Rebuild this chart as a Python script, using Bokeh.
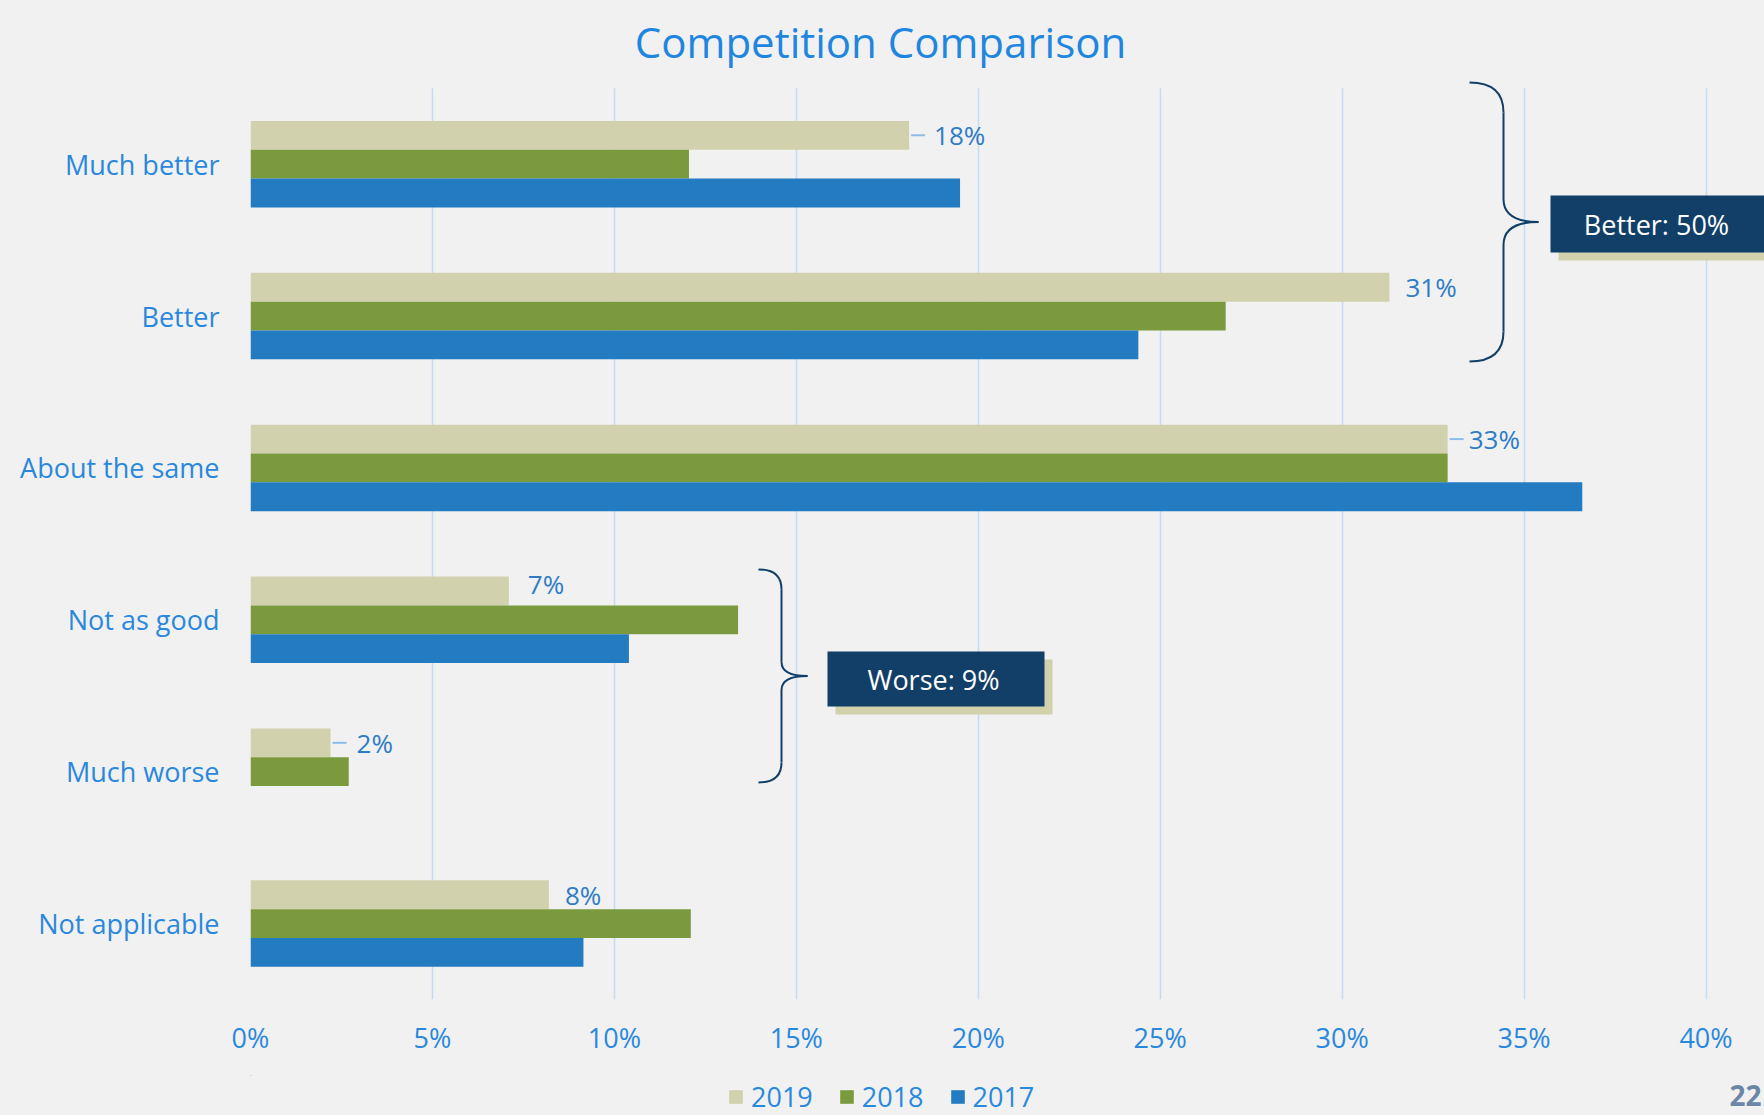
from bokeh.plotting import figure
from bokeh.layouts import column
from bokeh.models import (ColumnDataSource, Range1d, FixedTicker, NumeralTickFormatter,
                          Legend, LegendItem, BoxAnnotation)
from bokeh.transform import dodge
from bokeh.embed import file_html
from bokeh.resources import INLINE
from bokeh.core.properties import value

# ---------------- data ----------------
categories = ["Much better", "Better", "About the same", "Not as good", "Much worse", "Not applicable"]
years = ["2019", "2018", "2017"]
v2019 = [0.181, 0.313, 0.329, 0.071, 0.022, 0.082]
v2018 = [0.1205, 0.268, 0.329, 0.134, 0.027, 0.121]
v2017 = [0.195, 0.244, 0.366, 0.104, 0.0, 0.0915]
x_ticks = [0.0, 0.05, 0.10, 0.15, 0.20, 0.25, 0.30, 0.35, 0.40]
title_text = "Competition Comparison"
group_texts = ["Better: 50%", "Worse: 9%"]
page_number = "22"

# ---------------- style ----------------
FONT = "Open Sans"
C2019, C2018, C2017 = "#D1D2AD", "#7A9A3D", "#237BC2"
BLUE_TXT = "#2A88DC"
LABEL_TXT = "#2E7CC6"
NAVY = "#113F68"
SHADOW = "#D1D1AC"
BG = "#F1F1F1"
GRID = "#C6DCF3"
W, H = 1764, 1115
TOP_H, BOT_H = 80, 40

FRAME_LEFT, FRAME_TOP, FRAME_BOTTOM = 250, TOP_H, 999
FRAME_W = W - FRAME_LEFT
FRAME_H = FRAME_BOTTOM - FRAME_TOP
PX_PER_X = 1455.5 / 0.40          # pixels per unit of x
PX_PER_Y = 151.9                  # pixels per category
GRID_TOP = 87.75
y_top = -0.5 - (GRID_TOP - FRAME_TOP) / PX_PER_Y
x_end = FRAME_W / PX_PER_X
BAR_H = 0.19


def px_x(px):
    return px / PX_PER_X


def px_y(px):
    return px / PX_PER_Y


def y_of(ref_px):
    return -0.5 + (ref_px - GRID_TOP) / PX_PER_Y


def x_of(ref_px):
    return (ref_px - FRAME_LEFT) / PX_PER_X


def strip(height):
    # a plain strip whose coordinates are page pixels
    f = figure(frame_width=FRAME_W, frame_height=height,
               x_range=Range1d(FRAME_LEFT, W), y_range=Range1d(height, 0),
               x_axis_type=None, y_axis_type=None, output_backend="svg", toolbar_location=None,
               min_border_left=FRAME_LEFT, min_border_right=0, min_border_top=0,
               min_border_bottom=0, background_fill_color=BG, border_fill_color=None,
               outline_line_color=None, styles={"background-color": BG})
    f.grid.visible = False
    return f


# ---------------- title strip ----------------
top = strip(TOP_H)
top.text(x=[880], y=[40.7], text=[title_text], text_font=value(FONT), text_font_size="42px",
         text_color="#1F86E0", text_align="center", text_baseline="alphabetic")

# ---------------- main chart ----------------
p = figure(frame_width=FRAME_W, frame_height=FRAME_H,
           x_range=Range1d(0, x_end), y_range=Range1d(5.5, y_top),
           output_backend="svg", toolbar_location=None,
           min_border_left=FRAME_LEFT, min_border_right=0, min_border_top=0,
           min_border_bottom=H - TOP_H - BOT_H - FRAME_H,
           background_fill_color=BG, border_fill_color=None, outline_line_color=None,
           styles={"background-color": BG})

idx = list(range(len(categories)))
src = ColumnDataSource(dict(idx=idx, v2019=v2019, v2018=v2018, v2017=v2017))

p.hbar(y=dodge("idx", -BAR_H, range=p.y_range), left=0, right="v2019", height=BAR_H,
       source=src, fill_color=C2019, line_color=None)
p.hbar(y=dodge("idx", 0.0, range=p.y_range), left=0, right="v2018", height=BAR_H,
       source=src, fill_color=C2018, line_color=None)
p.hbar(y=dodge("idx", BAR_H, range=p.y_range), left=0, right="v2017", height=BAR_H,
       source=src, fill_color=C2017, line_color=None)

# data labels for 2019
lab_dx = [25, 16, 21, 19, 26, 16]
lab_dy = [0, 0, 0, -7, 0, 0]
has_leader = [True, False, True, False, True, False]
lab_src = ColumnDataSource(dict(
    x=v2019, y=[i - BAR_H for i in idx],
    text=["%d%%" % round(v * 100) for v in v2019],
    dx=lab_dx, dy=lab_dy))
p.text(x="x", y="y", text="text", x_offset="dx", y_offset="dy", source=lab_src,
       text_font=value(FONT), text_font_size="26px", text_color=LABEL_TXT,
       text_align="left", text_baseline="middle")
lead_x0 = [v + px_x(2) for v, h in zip(v2019, has_leader) if h]
lead_x1 = [v + px_x(16) for v, h in zip(v2019, has_leader) if h]
lead_y = [i - BAR_H for i, h in zip(idx, has_leader) if h]
p.segment(x0=lead_x0, x1=lead_x1, y0=lead_y, y1=lead_y, line_color="#8DBCE8", line_width=2)

# axes
p.xaxis.ticker = FixedTicker(ticks=x_ticks)
p.xaxis.formatter = NumeralTickFormatter(format="0%")
p.yaxis.ticker = FixedTicker(ticks=idx)
p.yaxis.major_label_overrides = {i: c for i, c in zip(idx, categories)}
for ax in (p.xaxis, p.yaxis):
    ax.axis_line_color = None
    ax.major_tick_line_color = None
    ax.minor_tick_line_color = None
    ax.major_tick_out = 0
    ax.major_tick_in = 0
    ax.major_label_text_font = FONT
    ax.major_label_text_font_size = "27px"
    ax.major_label_text_color = BLUE_TXT
p.xaxis.major_label_standoff = 19
p.yaxis.major_label_standoff = 31

p.xgrid.grid_line_color = GRID
p.xgrid.grid_line_width = 1.6
p.ygrid.grid_line_color = None

# hide grid above the first category band
p.add_layout(BoxAnnotation(bottom=-0.5, fill_color=BG, fill_alpha=1.0, line_color=None,
                           level="underlay"))


# braces
def brace(x_end_px, x_line_px, x_tip_px, y_t, y_b, r_end, r_tip):
    xe, xl, xt = x_of(x_end_px), x_of(x_line_px), x_of(x_tip_px)
    ym = (y_t + y_b) / 2
    re, rt = px_y(r_end), px_y(r_tip)
    p.quadratic(x0=[xe, xe], y0=[y_t, y_b], x1=[xl, xl], y1=[y_t + re, y_b - re],
                cx=[xl, xl], cy=[y_t, y_b], line_color=NAVY, line_width=2)
    p.segment(x0=[xl, xl], y0=[y_t + re, ym + rt], x1=[xl, xl], y1=[ym - rt, y_b - re],
              line_color=NAVY, line_width=2)
    p.quadratic(x0=[xl, xl], y0=[ym - rt, ym + rt], x1=[xt, xt], y1=[ym, ym],
                cx=[xl, xl], cy=[ym, ym], line_color=NAVY, line_width=2)


brace(1469, 1503, 1538, y_of(82), y_of(361), 30, 23)
brace(758, 781, 807, y_of(569), y_of(782), 20, 14)

# boxes
box_left = [x_of(1550), x_of(827)]
box_right = [x_of(1775), x_of(1044)]
box_top = [y_of(195), y_of(651)]
box_bot = [y_of(252), y_of(706)]
p.quad(left=[b + px_x(8) for b in box_left], right=[b + px_x(8) for b in box_right],
       top=[b + px_y(8) for b in box_top], bottom=[b + px_y(8) for b in box_bot],
       fill_color=SHADOW, line_color=None)
p.quad(left=box_left, right=box_right, top=box_top, bottom=box_bot,
       fill_color=NAVY, line_color=None)
p.text(x=[x_of(1656), x_of(933)], y=[y_of(224), y_of(679)], text=group_texts,
       text_font=value(FONT), text_font_size="27px", text_color="white",
       text_align="center", text_baseline="middle")

# ---------------- legend strip ----------------
bot = strip(BOT_H)
# legend proxies: one swatch each, placed outside the strip's visible range
dummy = [bot.hbar(y=[-100], left=[FRAME_LEFT], right=[FRAME_LEFT + 1], height=1,
                  fill_color=c, line_color=None)
         for c in (C2019, C2018, C2017)]
legend = Legend(items=[LegendItem(label=y, renderers=[r]) for y, r in zip(years, dummy)],
                orientation="horizontal", location=(727 - FRAME_LEFT, 0),
                glyph_width=17, glyph_height=17, label_standoff=7, spacing=25,
                padding=0, margin=0, border_line_color=None, background_fill_alpha=0,
                label_text_font=FONT, label_text_font_size="27px", label_text_color=BLUE_TXT)
bot.add_layout(legend)
bot.text(x=[W - 3], y=[20], text=[page_number], text_font=value(FONT), text_font_size="28px",
         text_font_style="bold", text_color="#6B86A6", text_align="right", text_baseline="middle")

layout = column(top, p, bot, spacing=0, styles={"background-color": BG})
html = file_html(layout, INLINE)
html = html.replace("</head>",
                    "<style>html, body { background-color: %s !important; }</style></head>" % BG, 1)
open("out.html", "w").write(html)
